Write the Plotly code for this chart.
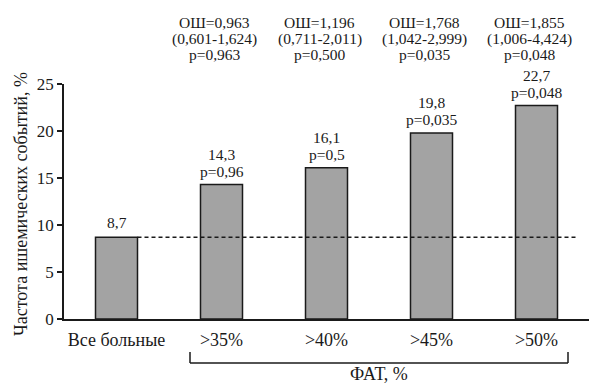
import plotly.graph_objects as go

categories = ["Все больные", ">35%", ">40%", ">45%", ">50%"]
values = [8.7, 14.3, 16.1, 19.8, 22.7]
value_labels = ["8,7", "14,3", "16,1", "19,8", "22,7"]
p_labels = ["", "p=0,96", "p=0,5", "p=0,035", "p=0,048"]
or_labels = ["", "ОШ=0,963", "ОШ=1,196", "ОШ=1,768", "ОШ=1,855"]
ci_labels = ["", "(0,601-1,624)", "(0,711-2,011)", "(1,042-2,999)", "(1,006-4,424)"]
or_p_labels = ["", "p=0,963", "p=0,500", "p=0,035", "p=0,048"]
reference_level = 8.7
y_ticks = [0, 5, 10, 15, 20, 25]
y_title = "Частота ишемических событий, %"
group_title = "ФАТ, %"

FONT = "Liberation Serif"
W, H = 589, 385
ml, mr, mt, mb = 64, 0, 84, 66
plot_h = H - mt - mb

def py(px):
    return (H - mb - px) / plot_h

def pxx(px):
    return (px - ml) / (W - ml - mr)

xs = list(range(len(categories)))

fig = go.Figure()
fig.add_trace(go.Bar(
    x=xs, y=values, width=0.4,
    marker=dict(color="#a3a3a3", line=dict(color="#1a1a1a", width=1.5)),
    hoverinfo="skip", showlegend=False,
))

fig.add_trace(go.Scatter(
    x=[0.2, 4.38], y=[reference_level, reference_level], mode="lines",
    line=dict(color="#1a1a1a", width=1.5, dash="4px,3px"),
    hoverinfo="skip", showlegend=False,
))

ann = []
for i, v in enumerate(values):
    if p_labels[i]:
        ann.append(dict(x=i, y=v, xref="x", yref="y", text=p_labels[i], showarrow=False,
                        yanchor="middle", yshift=13, font=dict(size=15.5)))
        ann.append(dict(x=i, y=v, xref="x", yref="y", text=value_labels[i], showarrow=False,
                        yanchor="middle", yshift=30, font=dict(size=15.5)))
    else:
        ann.append(dict(x=i, y=v, xref="x", yref="y", text=value_labels[i], showarrow=False,
                        yanchor="middle", yshift=15, font=dict(size=15.5)))
    if or_labels[i]:
        for txt, ypix in ((or_labels[i], 22), (ci_labels[i], 38.5), (or_p_labels[i], 55)):
            ann.append(dict(x=i, y=py(ypix), xref="x", yref="paper", text=txt, showarrow=False,
                            yanchor="middle", xshift=-7, font=dict(size=15.5)))

ann.append(dict(x=pxx(21), y=py(204), xref="paper", yref="paper", text=y_title, textangle=-90,
                showarrow=False, xanchor="center", yanchor="middle", font=dict(size=18)))
ann.append(dict(x=(0.7 + 4.3) / 2, y=py(374), xref="x", yref="paper", text=group_title,
                showarrow=False, yanchor="middle", font=dict(size=18)))

shapes = [
    dict(type="line", xref="x", yref="paper", x0=0.7, x1=0.7, y0=py(352), y1=py(363),
         line=dict(color="#1a1a1a", width=1.5)),
    dict(type="line", xref="x", yref="paper", x0=0.7, x1=4.3, y0=py(363), y1=py(363),
         line=dict(color="#1a1a1a", width=1.5)),
    dict(type="line", xref="x", yref="paper", x0=4.3, x1=4.3, y0=py(352), y1=py(363),
         line=dict(color="#1a1a1a", width=1.5)),
]

fig.update_layout(
    width=W, height=H,
    margin=dict(l=ml, r=mr, t=mt, b=mb),
    paper_bgcolor="white", plot_bgcolor="white",
    font=dict(family=FONT, size=16, color="#1a1a1a"),
    annotations=ann, shapes=shapes,
    xaxis=dict(range=[-0.5, 4.5], tickvals=xs, ticktext=categories, showline=True,
               linecolor="#1a1a1a", linewidth=1.5, ticks="", showgrid=False, zeroline=False,
               fixedrange=True, tickfont=dict(size=18), ticklabelstandoff=4),
    yaxis=dict(range=[0, 25], tickvals=y_ticks, showline=True, linecolor="#1a1a1a",
               linewidth=1.5, ticks="outside", ticklen=5, tickwidth=1.5, tickcolor="#1a1a1a",
               showgrid=False, zeroline=False, fixedrange=True, tickfont=dict(size=17)),
)

fig.write_html("out.html", config={"displayModeBar": False},
               post_script="document.body.style.margin='0';document.body.style.overflow='hidden';")
